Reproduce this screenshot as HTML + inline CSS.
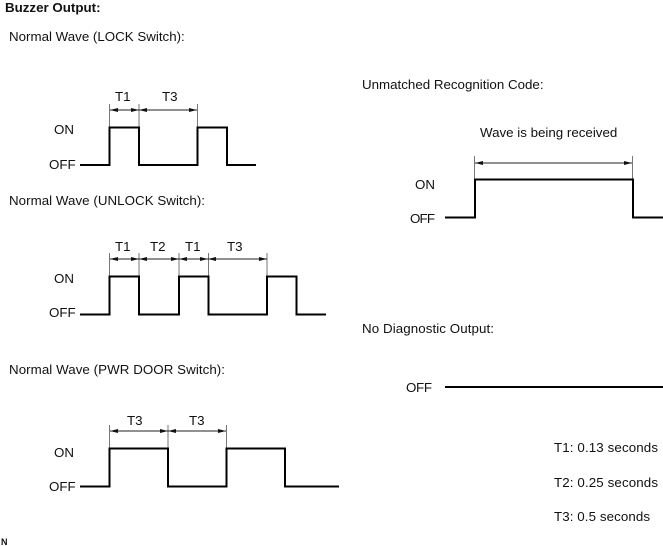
<!DOCTYPE html>
<html><head><meta charset="utf-8"><style>
html,body{margin:0;padding:0;background:#fff}
svg{display:block}
text{font-family:"Liberation Sans",Arial,sans-serif;font-size:13.33px;fill:#111}
.w{fill:none;stroke:#000;stroke-width:2;stroke-linejoin:miter}
.t{stroke:#777;stroke-width:1;fill:none}
.a{stroke:#222;stroke-width:1;fill:none}
.h{fill:#111}
</style></head><body>
<svg width="663" height="546" viewBox="0 0 663 546" xmlns="http://www.w3.org/2000/svg">
<defs>
<path id="r" d="M0 0l-8 -2v4z"/>
<path id="l" d="M0 0l8 -2v4z"/>
</defs>
<text x="5" y="12" style="font-weight:bold">Buzzer Output:</text>
<text x="9" y="41">Normal Wave (LOCK Switch):</text>
<text x="9" y="205" textLength="196">Normal Wave (UNLOCK Switch):</text>
<text x="9" y="374" textLength="216">Normal Wave (PWR DOOR Switch):</text>
<text x="362" y="89">Unmatched Recognition Code:</text>
<text x="480" y="137">Wave is being received</text>
<text x="362" y="333" textLength="132">No Diagnostic Output:</text>

<!-- Wave 1 -->
<text x="115" y="101">T1</text><text x="162" y="101">T3</text>
<text x="54" y="134">ON</text><text x="49" y="169">OFF</text>
<path class="t" d="M109.5 104V127M139 104V127M197.5 104V127"/>
<path class="a" d="M110 110H139M139 110H197"/>
<use href="#l" class="h" x="110" y="110"/><use href="#r" class="h" x="139" y="110"/><use href="#l" class="h" x="139" y="110"/><use href="#r" class="h" x="197" y="110"/>
<path class="w" d="M80 165H109.5V127.5H139V165H197.5V127.5H227V165H256"/>

<!-- Wave 2 -->
<text x="115" y="251">T1</text><text x="150" y="251">T2</text><text x="185" y="251">T1</text><text x="227" y="251">T3</text>
<text x="54" y="283">ON</text><text x="49" y="317">OFF</text>
<path class="t" d="M109.5 253V276M139 253V276M179 253V276M208.5 253V276M267 253V276"/>
<path class="a" d="M110 259H267"/>
<use href="#l" class="h" x="110" y="259"/><use href="#r" class="h" x="139" y="259"/><use href="#l" class="h" x="139" y="259"/><use href="#r" class="h" x="179" y="259"/><use href="#l" class="h" x="179" y="259"/><use href="#r" class="h" x="208" y="259"/><use href="#l" class="h" x="208" y="259"/><use href="#r" class="h" x="267" y="259"/>
<path class="w" d="M80 314.5H109.5V276.5H139V314.5H179V276.5H208.5V314.5H267V276.5H296.5V314.5H326"/>

<!-- Wave 3 -->
<text x="127" y="425">T3</text><text x="189" y="425">T3</text>
<text x="54" y="457">ON</text><text x="49" y="491">OFF</text>
<path class="t" d="M109.5 425V448M168 425V448M226.5 425V448"/>
<path class="a" d="M110 431H226"/>
<use href="#l" class="h" x="110" y="431"/><use href="#r" class="h" x="168" y="431"/><use href="#l" class="h" x="168" y="431"/><use href="#r" class="h" x="226" y="431"/>
<path class="w" d="M80 486.5H109.5V448.5H168V486.5H226.5V448.5H285V486.5H339"/>

<!-- Unmatched -->
<text x="415" y="189">ON</text><text x="410" y="223" textLength="25">OFF</text>
<path class="t" d="M474.5 156V179M632.5 156V179"/>
<path class="a" d="M475 163H632"/>
<use href="#l" class="h" x="475" y="163"/><use href="#r" class="h" x="632" y="163"/>
<path class="w" d="M445 217.5H475V179.5H633V217.5H663"/>

<!-- No diagnostic -->
<text x="406" y="392" textLength="26">OFF</text>
<path class="w" d="M445 387H663"/>

<text x="554" y="452" textLength="104">T1: 0.13 seconds</text>
<text x="554" y="487" textLength="104">T2: 0.25 seconds</text>
<text x="554" y="521" textLength="96">T3: 0.5 seconds</text>
<text x="1" y="545" style="font-size:9px;font-weight:bold">N</text>
</svg>
</body></html>
